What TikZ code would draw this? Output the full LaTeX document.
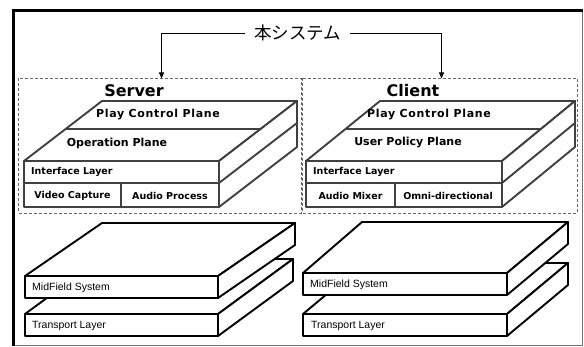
\documentclass[tikz,border=0pt]{standalone}
\usepackage{fontspec}
\setmainfont{DejaVu Sans}
\newfontfamily\afont{Liberation Sans}
\newfontfamily\cjk{Noto Sans CJK JP}
\usetikzlibrary{arrows.meta}
\begin{document}
\begin{tikzpicture}[x=1pt,y=-1pt,
  up/.style={draw=black!75, line width=1.9pt, fill=white, line join=round},
  lo/.style={draw=black, line width=1.9pt, fill=white, line join=round},
  plane/.style={font=\bfseries\fontsize{11}{13}\selectfont, inner sep=0pt},
  wplane/.style={font=\bfseries\fontsize{11}{13}\selectfont\addfontfeature{LetterSpace=6}, inner sep=0pt},
  lbl/.style={font=\bfseries\fontsize{9.5}{11}\selectfont, inner sep=0pt},
  llbl/.style={font=\afont\fontsize{10.5}{12}\selectfont, inner sep=0pt, anchor=west},
  head/.style={font=\bfseries\fontsize{16}{18}\selectfont, inner sep=0pt},
  dbox/.style={draw=black!60, dash pattern=on 3pt off 2pt, line width=0.8pt},
  conn/.style={draw=black, line width=0.8pt, -{Triangle[length=6pt,width=5pt]}},
]
\useasboundingbox (0,0) rectangle (584,347);
\fill[white] (0,0) rectangle (584,347);
% outer frame
\draw[black!55, line width=0.8pt] (13,345.6) -- (582.6,345.6) -- (582.6,10);
\draw[black, line width=3pt] (13.5,346) -- (13.5,10.5) -- (583,10.5);

% dashed boxes
\draw[dbox] (18,78.5) rectangle (301,213);
\draw[dbox] (302.5,78.5) rectangle (577,213);

% title and connectors
\node[font=\cjk\fontsize{17.5}{20}\selectfont, inner xsep=8.5pt, inner ysep=2pt] (title) at (297.5,33) {本システム};
\coordinate (sA) at (161.5,78.5);
\coordinate (cA) at (441.5,78.5);
\draw[conn] (title.west) -| (sA);
\draw[conn] (title.east) -| (cA);

\node[head] (server) at (134,91) {Server};
\node[head] (client) at (413,91) {Client};

% ---------- server upper stack
\draw[up] (24,161) -- (102,101) -- (297,101) -- (219,161) -- cycle;
\draw[up] (65.6,129) -- (260.6,129);
\draw[up] (219,161) -- (297,101) -- (297,147) -- (219,207) -- cycle;
\draw[up] (219,183) -- (297,123);
\draw[up] (24,161) rectangle (219,207);
\draw[up] (24,183) -- (219,183);
\draw[up] (121,183) -- (121,207);
\node[wplane] (s1) at (158,115) {Play Control Plane};
\node[plane] (s2) at (117,143) {Operation Plane};
\node[lbl, anchor=west] (s3) at (31,172) {Interface Layer};
\node[lbl] (s4) at (72.5,195.5) {Video Capture};
\node[lbl] (s5) at (170,195.5) {Audio Process};

% ---------- client upper stack
\draw[up] (306,161) -- (380,101) -- (575,101) -- (502,161) -- cycle;
\draw[up] (345.5,129) -- (541.5,129);
\draw[up] (502,161) -- (575,101) -- (575,147) -- (502,207) -- cycle;
\draw[up] (502,183) -- (575,123);
\draw[up] (306,161) rectangle (502,207);
\draw[up] (306,183) -- (502,183);
\draw[up] (395,183) -- (395,207);
\node[wplane] (c1) at (429,115) {Play Control Plane};
\node[plane] (c2) at (408,143) {User Policy Plane};
\node[lbl, anchor=west] (c3) at (313,172) {Interface Layer};
\node[lbl] (c4) at (350.5,195.5) {Audio Mixer};
\node[lbl] (c5) at (448,195.5) {Omni-directional};

% ---------- server lower stack
\draw[lo] (25,314) -- (100,259) -- (293,259) -- (218,314) -- cycle;
\draw[lo] (218,314) -- (293,259) -- (293,281) -- (218,336) -- cycle;
\draw[lo] (25,314) rectangle (218,336);
\draw[lo] (25,276) -- (102,223) -- (295,223) -- (218,276) -- cycle;
\draw[lo] (218,276) -- (295,223) -- (295,245) -- (218,298) -- cycle;
\draw[lo] (25,276) rectangle (218,298);
\node[llbl] (s6) at (32,288) {MidField System};
\node[llbl] (s7) at (32,325.5) {Transport Layer};

% ---------- client lower stack
\draw[lo] (303,314) -- (364,263) -- (568,263) -- (507,314) -- cycle;
\draw[lo] (507,314) -- (568,263) -- (568,285) -- (507,336) -- cycle;
\draw[lo] (303,314) rectangle (507,336);
\draw[lo] (303,273) -- (362,222) -- (568,222) -- (507,273) -- cycle;
\draw[lo] (507,273) -- (568,222) -- (568,244) -- (507,295) -- cycle;
\draw[lo] (303,273) rectangle (507,295);
\node[llbl] (c6) at (310,284.5) {MidField System};
\node[llbl] (c7) at (311,325.5) {Transport Layer};
\end{tikzpicture}
\end{document}
